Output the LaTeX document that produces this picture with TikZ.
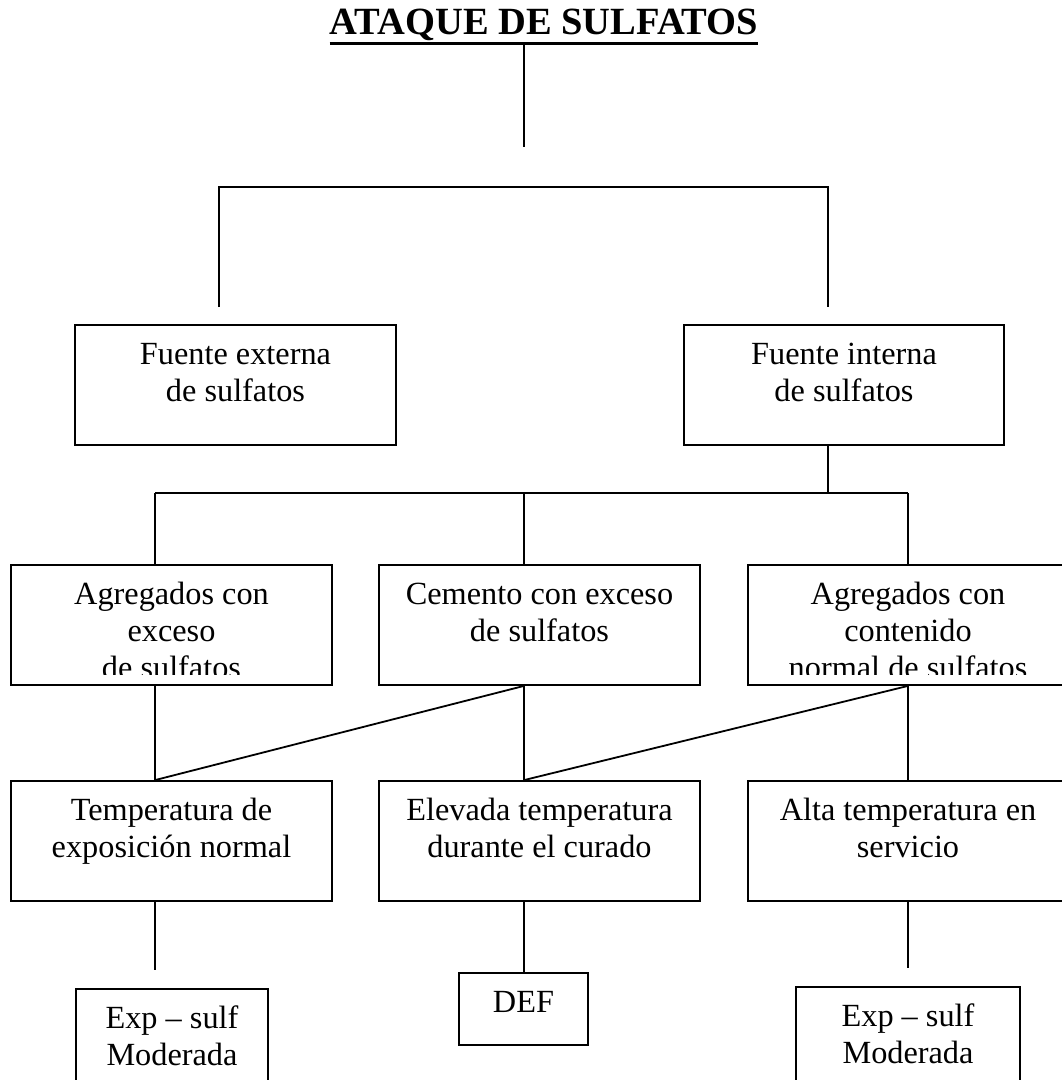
\documentclass[tikz,border=0pt]{standalone}
\usepackage{fontspec}
\setmainfont{Liberation Serif}
\usetikzlibrary{calc}
\newcommand\tstrut{\rule{0pt}{26pt}}
\tikzset{
  box/.style={draw, line width=1.8pt, rectangle, inner sep=0pt},
  txt/.style={inner sep=0pt, align=center, anchor=north, font=\fontsize{32.3}{36.8}\selectfont},
  conn/.style={line width=1.8pt}
}
\begin{document}
\begin{tikzpicture}[x=1pt,y=-1pt]
\useasboundingbox (0,0) rectangle (1062,1080);
\clip (0,0) rectangle (1062,1080);
% title
\node[inner sep=0pt, anchor=base, font=\fontsize{38.5}{40}\selectfont\bfseries] (title) at (544,34) {ATAQUE DE SULFATOS};
\draw[line width=3pt] ($(title.base west)+(0,9)$) coordinate (ul1) -- ($(title.base east)+(0,9)$) coordinate (ul2);
% boxes
\node[box, minimum width=321pt, minimum height=120pt] (fe) at (235.5,385) {};
\node[box, minimum width=320pt, minimum height=120pt] (fi) at (844,385) {};
\node[box, minimum width=321pt, minimum height=120pt] (ra) at (171.5,625) {};
\node[box, minimum width=321pt, minimum height=120pt] (rb) at (539.5,625) {};
\node[box, minimum width=320pt, minimum height=120pt] (rc) at (908,625) {};
\node[box, minimum width=321pt, minimum height=120pt] (ta) at (171.5,841) {};
\node[box, minimum width=321pt, minimum height=120pt] (tb) at (539.5,841) {};
\node[box, minimum width=320pt, minimum height=120pt] (tc) at (908,841) {};
\node[box, minimum width=192pt, minimum height=130pt] (ea) at (172,1054) {};
\node[box, minimum width=129pt, minimum height=72pt] (def) at (523.5,1009) {};
\node[box, minimum width=224pt, minimum height=130pt] (ec) at (908,1052) {};
% texts
\node[txt] (fet) at ($(fe.north)+(0,14.5)$) {\tstrut Fuente externa\\de sulfatos};
\node[txt] (fit) at ($(fi.north)+(0,14.5)$) {\tstrut Fuente interna\\de sulfatos};
\begin{scope}
\clip ($(ra.south west)+(0,-11)$) rectangle ($(rc.north east)+(20,0)$);
\node[txt] (rat) at ($(ra.north)+(0,14.5)$) {\tstrut Agregados con\\exceso\\de sulfatos};
\node[txt] (rbt) at ($(rb.north)+(0,14.5)$) {\tstrut Cemento con exceso\\de sulfatos};
\node[txt] (rct) at ($(rc.north)+(0,14.5)$) {\tstrut Agregados con\\contenido\\normal de sulfatos};
\end{scope}
\node[txt] (tat) at ($(ta.north)+(0,14.5)$) {\tstrut Temperatura de\\exposición normal};
\node[txt] (tbt) at ($(tb.north)+(0,14.5)$) {\tstrut Elevada temperatura\\durante el curado};
\node[txt] (tct) at ($(tc.north)+(0,14.5)$) {\tstrut Alta temperatura en\\servicio};
\node[txt] (eat) at ($(ea.north)+(0,14.5)$) {\tstrut Exp -- sulf\\Moderada};
\node[txt] (deft) at ($(def.north)+(0,14.5)$) {\tstrut DEF};
\node[txt] (ect) at ($(ec.north)+(0,14.5)$) {\tstrut Exp -- sulf\\Moderada};
% coordinates
\coordinate (t1) at (524,43);
\coordinate (t2) at (524,147);
\coordinate (bl) at (219,307);
\coordinate (br) at (828,307);
\coordinate (topy) at (0,187);
\coordinate (fib) at (828,445);
\coordinate (h0) at (828,493);
\coordinate (ha) at (155,493);
\coordinate (hb) at (524,493);
\coordinate (hc) at (908,493);
\coordinate (la) at (155,970);
\coordinate (lc) at (908,968);
% connectors
\draw[conn] (t1) -- (t2);
\draw[conn] (bl) -- (bl |- topy) -- (br |- topy) -- (br);
\draw[conn] (fib) -- (h0);
\draw[conn] (ha) -- (hc);
\draw[conn] (ha) -- (ha |- ra.north);
\draw[conn] (hb) -- (hb |- rb.north);
\draw[conn] (hc) -- (hc |- rc.north);
\draw[conn] (ha |- ra.south) -- (ha |- ta.north);
\draw[conn] (hb |- rb.south) -- (hb |- tb.north);
\draw[conn] (hc |- rc.south) -- (hc |- tc.north);
\draw[conn] (hb |- rb.south) -- (ha |- ta.north);
\draw[conn] (hc |- rc.south) -- (hb |- tb.north);
\draw[conn] (ha |- ta.south) -- (la);
\draw[conn] (hb |- tb.south) -- (hb |- def.north);
\draw[conn] (hc |- tc.south) -- (lc);
\end{tikzpicture}
\end{document}
